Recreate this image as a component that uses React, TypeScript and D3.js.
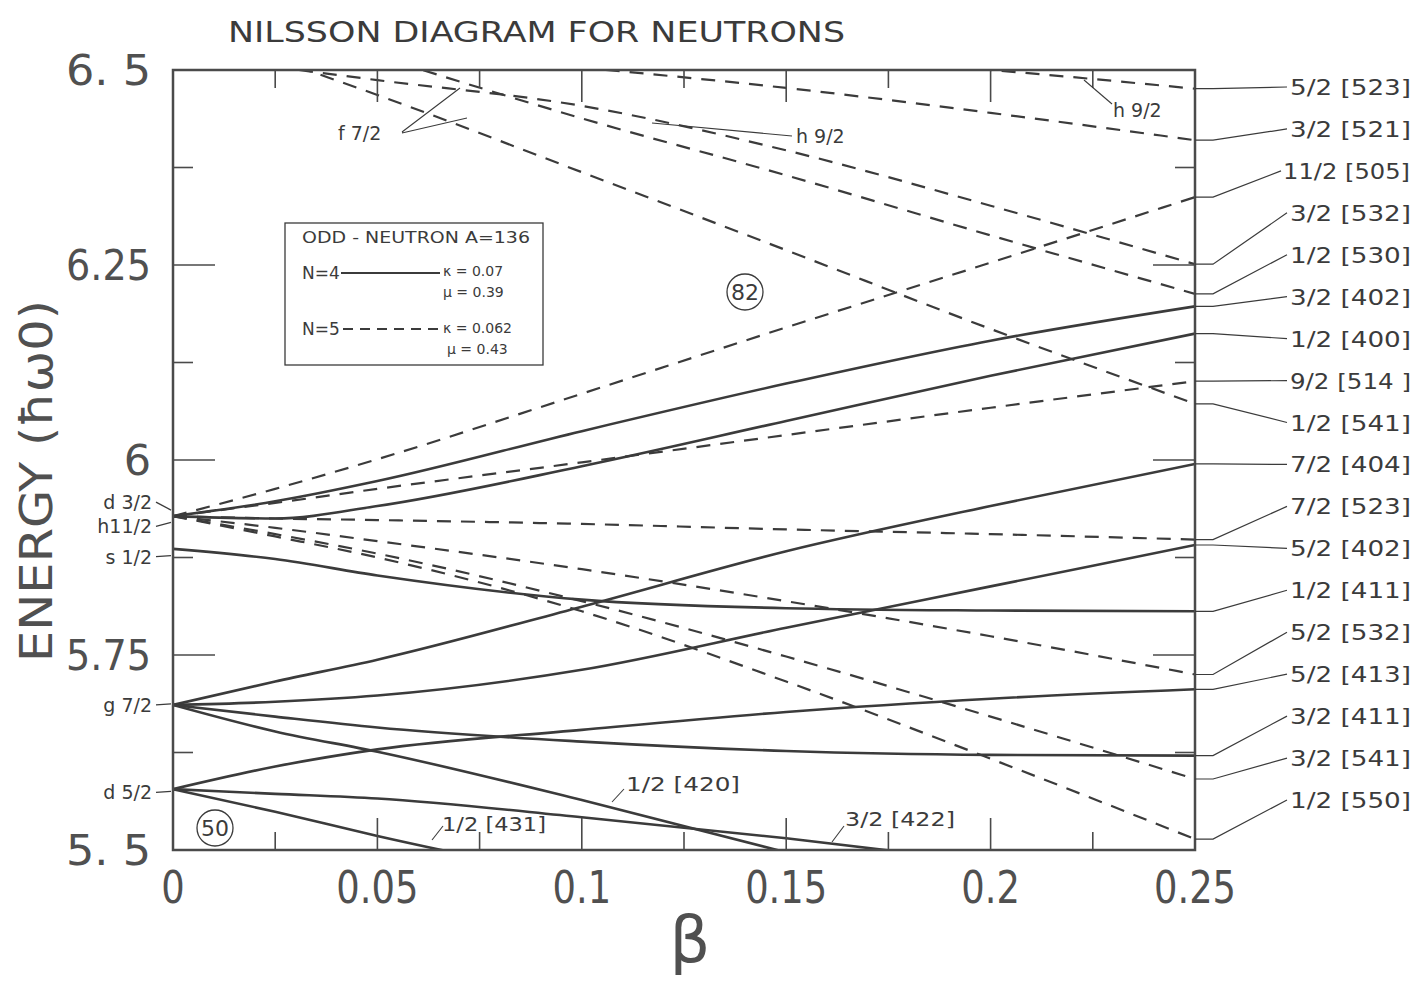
import React from 'react';
import * as d3 from 'd3';

// deformation grid the energies were read at
const BETA = [0, 0.025, 0.05, 0.1, 0.15, 0.2, 0.25];

// N = 4 levels (solid), energy in units of hbar omega0
const N4_32_402 = [5.928, 5.947, 5.973, 6.037, 6.098, 6.153, 6.197];
const N4_12_400 = [5.928, 5.925, 5.941, 5.992, 6.05, 6.108, 6.162];
const N4_12_411 = [5.886, 5.873, 5.852, 5.821, 5.81, 5.807, 5.806];
const N4_72_404 = [5.686, 5.716, 5.744, 5.812, 5.883, 5.941, 5.995];
const N4_52_402 = [5.686, 5.69, 5.698, 5.731, 5.785, 5.838, 5.891];
const N4_52_413 = [5.578, 5.607, 5.629, 5.654, 5.677, 5.694, 5.706];
const N4_32_411 = [5.686, 5.671, 5.657, 5.639, 5.627, 5.622, 5.621];
const N4_12_420 = [5.686, 5.652, 5.626, 5.564, 5.497, null, null];
const N4_32_422 = [5.578, 5.572, 5.566, 5.542, 5.515, 5.484, null];
const N4_12_431 = [5.578, 5.549, 5.518, 5.463, null, null, null];

// N = 5 levels (dashed)
const N5_112_505 = [5.928, 5.963, 6.001, 6.085, 6.17, 6.253, 6.337];
const N5_92_514 = [5.928, 5.945, 5.963, 5.997, 6.032, 6.067, 6.101];
const N5_72_523 = [5.928, 5.925, 5.923, 5.918, 5.911, 5.905, 5.898];
const N5_52_532 = [5.928, 5.913, 5.896, 5.86, 5.819, 5.774, 5.725];
const N5_32_541 = [5.928, 5.905, 5.88, 5.819, 5.748, 5.671, 5.591];
const N5_12_550 = [5.928, 5.902, 5.875, 5.806, 5.716, 5.617, 5.514];
const N5_12_541 = [null, 6.514, 6.468, 6.369, 6.269, 6.168, 6.072];
const N5_32_532 = [null, 6.504, 6.487, 6.454, 6.397, 6.326, 6.251];
const N5_12_530 = [null, null, 6.518, 6.438, 6.365, 6.288, 6.213];
const N5_32_521 = [null, null, null, 6.503, 6.477, 6.445, 6.41];
const N5_52_523 = [null, null, null, null, 6.519, 6.5, 6.476];

type Level = { name: string; e: (number | null)[]; dashed: boolean; right: boolean };

const levels: Level[] = [
  { name: '3/2 [402]', e: N4_32_402, dashed: false, right: true },
  { name: '1/2 [400]', e: N4_12_400, dashed: false, right: true },
  { name: '1/2 [411]', e: N4_12_411, dashed: false, right: true },
  { name: '7/2 [404]', e: N4_72_404, dashed: false, right: true },
  { name: '5/2 [402]', e: N4_52_402, dashed: false, right: true },
  { name: '5/2 [413]', e: N4_52_413, dashed: false, right: true },
  { name: '3/2 [411]', e: N4_32_411, dashed: false, right: true },
  { name: '1/2 [420]', e: N4_12_420, dashed: false, right: false },
  { name: '3/2 [422]', e: N4_32_422, dashed: false, right: false },
  { name: '1/2 [431]', e: N4_12_431, dashed: false, right: false },
  { name: '11/2 [505]', e: N5_112_505, dashed: true, right: true },
  { name: '9/2 [514 ]', e: N5_92_514, dashed: true, right: true },
  { name: '7/2 [523]', e: N5_72_523, dashed: true, right: true },
  { name: '5/2 [532]', e: N5_52_532, dashed: true, right: true },
  { name: '3/2 [541]', e: N5_32_541, dashed: true, right: true },
  { name: '1/2 [550]', e: N5_12_550, dashed: true, right: true },
  { name: '1/2 [541]', e: N5_12_541, dashed: true, right: true },
  { name: '3/2 [532]', e: N5_32_532, dashed: true, right: true },
  { name: '1/2 [530]', e: N5_12_530, dashed: true, right: true },
  { name: '3/2 [521]', e: N5_32_521, dashed: true, right: true },
  { name: '5/2 [523]', e: N5_52_523, dashed: true, right: true },
];

// spherical shells at beta = 0
const SHELL_NAMES = ['d 3/2', 'h11/2', 's 1/2', 'g 7/2', 'd 5/2'];
const SHELL_E = [5.946, 5.915, 5.876, 5.686, 5.574];

const Y_TICKS = [6.5, 6.25, 6, 5.75, 5.5];
const Y_TICK_TEXT = ['6. 5', '6.25', '6', '5.75', '5. 5'];
const X_TICKS = [0, 0.05, 0.1, 0.15, 0.2, 0.25];

const INK = '#3b3b3b';
const SOFT = '#505050';
const FONT = 'DejaVu Sans, sans-serif';

export default function App() {
  const W = 1419;
  const H = 982;
  const left = 173, right = 1195, top = 70, bottom = 850;

  const x = d3.scaleLinear().domain([0, 0.25]).range([left, right]);
  const y = d3.scaleLinear().domain([5.5, 6.5]).range([bottom, top]);

  const line = d3
    .line<[number, number | null]>()
    .defined(d => d[1] != null)
    .x(d => x(d[0]))
    .y(d => y(d[1] as number))
    .curve(d3.curveMonotoneX);

  const minorX = d3.range(1, 10).map(i => i * 0.025);
  const minorY = d3.range(1, 8).map(i => 5.5 + i * 0.125);
  const isMajorX = (v: number) => Math.abs(v / 0.05 - Math.round(v / 0.05)) < 1e-6;
  const isMajorY = (v: number) => Math.abs(v / 0.25 - Math.round(v / 0.25)) < 1e-6;

  const rightLevels = levels
    .filter(l => l.right)
    .sort((a, b) => (b.e[b.e.length - 1] as number) - (a.e[a.e.length - 1] as number));
  const labTop = 87, labBot = 800;
  const labStep = (labBot - labTop) / (rightLevels.length - 1);

  return (
    <svg width={W} height={H} style={{ position: 'absolute', left: 0, top: 0, background: '#fff' }} fontFamily={FONT}>
      <defs>
        <clipPath id="plot">
          <rect x={left} y={top} width={right - left} height={bottom - top} />
        </clipPath>
      </defs>

      {/* title */}
      <text x={228} y={42} fontSize={29} fill={INK} textLength={617} lengthAdjust="spacingAndGlyphs">
        NILSSON DIAGRAM FOR NEUTRONS
      </text>

      {/* levels */}
      <g clipPath="url(#plot)" fill="none" stroke={INK}>
        {levels.map(l => (
          <path
            key={l.name}
            d={line(BETA.map((b, i) => [b, l.e[i]] as [number, number | null])) ?? ''}
            strokeWidth={l.dashed ? 2.2 : 2.6}
            strokeDasharray={l.dashed ? '14 10' : undefined}
          />
        ))}
      </g>

      {/* frame */}
      <rect x={left} y={top} width={right - left} height={bottom - top} fill="none" stroke="#4a4a4a" strokeWidth={2.5} />

      {/* ticks */}
      <g stroke="#4a4a4a" strokeWidth={1.6}>
        {minorX.map(v => {
          const len = isMajorX(v) ? 32 : 18;
          return (
            <g key={'tx' + v}>
              <line x1={x(v)} x2={x(v)} y1={bottom} y2={bottom - len} />
              <line x1={x(v)} x2={x(v)} y1={top} y2={top + len} />
            </g>
          );
        })}
        {minorY.map(v => {
          const len = isMajorY(v) ? 42 : 20;
          return (
            <g key={'ty' + v}>
              <line x1={left} x2={left + len} y1={y(v)} y2={y(v)} />
              <line x1={right} x2={right - len} y1={y(v)} y2={y(v)} />
            </g>
          );
        })}
      </g>

      {/* axis numbers */}
      <g fill={SOFT} fontSize={43}>
        {Y_TICKS.map((v, i) => (
          <text
            key={'yl' + v}
            x={151}
            y={y(v) + 15}
            textAnchor="end"
            textLength={Y_TICK_TEXT[i].length > 1 ? 85 : undefined}
            lengthAdjust="spacingAndGlyphs"
          >
            {Y_TICK_TEXT[i]}
          </text>
        ))}
        {X_TICKS.map(v => (
          <text key={'xl' + v} transform={`translate(${x(v)},903) scale(0.82,1)`} textAnchor="middle" fontSize={45}>
            {String(v)}
          </text>
        ))}
      </g>

      {/* axis titles */}
      <text x={690} y={962} fontSize={64} fill={SOFT} textAnchor="middle">β</text>
      <text
        transform="translate(52,481) rotate(-90)"
        fontSize={45}
        fill={SOFT}
        textAnchor="middle"
        textLength={362}
        lengthAdjust="spacingAndGlyphs"
      >
        ENERGY (ħω0)
      </text>

      {/* spherical shell labels */}
      <g fill={INK} fontSize={19}>
        {SHELL_NAMES.map((s, i) => (
          <g key={s}>
            <text x={152} y={y(SHELL_E[i]) + 7} textAnchor="end">{s}</text>
            <line
              x1={156}
              x2={171}
              y1={y(SHELL_E[i])}
              y2={i === 0 ? y(SHELL_E[i]) + 8 : i === 1 ? y(SHELL_E[i]) - 4 : y(SHELL_E[i]) - 1}
              stroke={INK}
              strokeWidth={1.2}
            />
          </g>
        ))}
      </g>

      {/* right-hand labels with leaders */}
      <g fontSize={21} fill={INK}>
        {rightLevels.map((l, i) => {
          const yEnd = y(l.e[l.e.length - 1] as number);
          const yLab = labTop + i * labStep;
          const long = l.name.startsWith('11');
          return (
            <g key={'rl' + l.name}>
              <path
                d={`M${right},${yEnd} L${right + 18},${yEnd} L${long ? 1281 : 1287},${yLab}`}
                fill="none"
                stroke={INK}
                strokeWidth={1.2}
              />
              <text
                x={long ? 1283 : 1290}
                y={yLab + 8}
                textLength={long ? 127 : 121}
                lengthAdjust="spacingAndGlyphs"
              >
                {l.name}
              </text>
            </g>
          );
        })}
      </g>

      {/* in-plot annotations */}
      <g fill={INK} fontSize={19} stroke="none">
        <text x={338} y={140}>f 7/2</text>
        <text x={796} y={143}>h 9/2</text>
        <text x={1113} y={117}>h 9/2</text>
        <text x={626} y={791} textLength={114} lengthAdjust="spacingAndGlyphs">1/2 [420]</text>
        <text x={442} y={831} textLength={104} lengthAdjust="spacingAndGlyphs">1/2 [431]</text>
        <text x={845} y={826} textLength={110} lengthAdjust="spacingAndGlyphs">3/2 [422]</text>
      </g>
      <g stroke={INK} strokeWidth={1.1} fill="none">
        <path d="M402,132 L460,88 M402,133 L467,118" />
        <path d="M652,123 L792,136" />
        <path d="M1084,80 L1112,104" />
        <path d="M612,802 L624,789" />
        <path d="M432,840 L443,826" />
        <path d="M832,842 L844,826" />
      </g>

      {/* magic numbers */}
      <g fill="none" stroke={INK} strokeWidth={1.3}>
        <circle cx={745} cy={292} r={18} />
        <circle cx={215} cy={828} r={18} />
      </g>
      <g fill={INK} fontSize={22} textAnchor="middle">
        <text x={745} y={300}>82</text>
        <text x={215} y={836}>50</text>
      </g>

      {/* legend box */}
      <rect x={285} y={223} width={258} height={142} fill="#fff" stroke={INK} strokeWidth={1.3} />
      <g fill={INK}>
        <text x={302} y={243} fontSize={15} textLength={228} lengthAdjust="spacingAndGlyphs">ODD - NEUTRON  A=136</text>
        <text x={302} y={279} fontSize={17}>N=4</text>
        <text x={443} y={276} fontSize={14}>κ = 0.07</text>
        <text x={443} y={297} fontSize={14}>μ = 0.39</text>
        <text x={302} y={335} fontSize={17}>N=5</text>
        <text x={443} y={333} fontSize={14}>κ = 0.062</text>
        <text x={447} y={354} fontSize={14}>μ = 0.43</text>
      </g>
      <line x1={341} x2={440} y1={273} y2={273} stroke={INK} strokeWidth={2.2} />
      <line x1={343} x2={441} y1={329} y2={329} stroke={INK} strokeWidth={2} strokeDasharray="10 7" />
    </svg>
  );
}
